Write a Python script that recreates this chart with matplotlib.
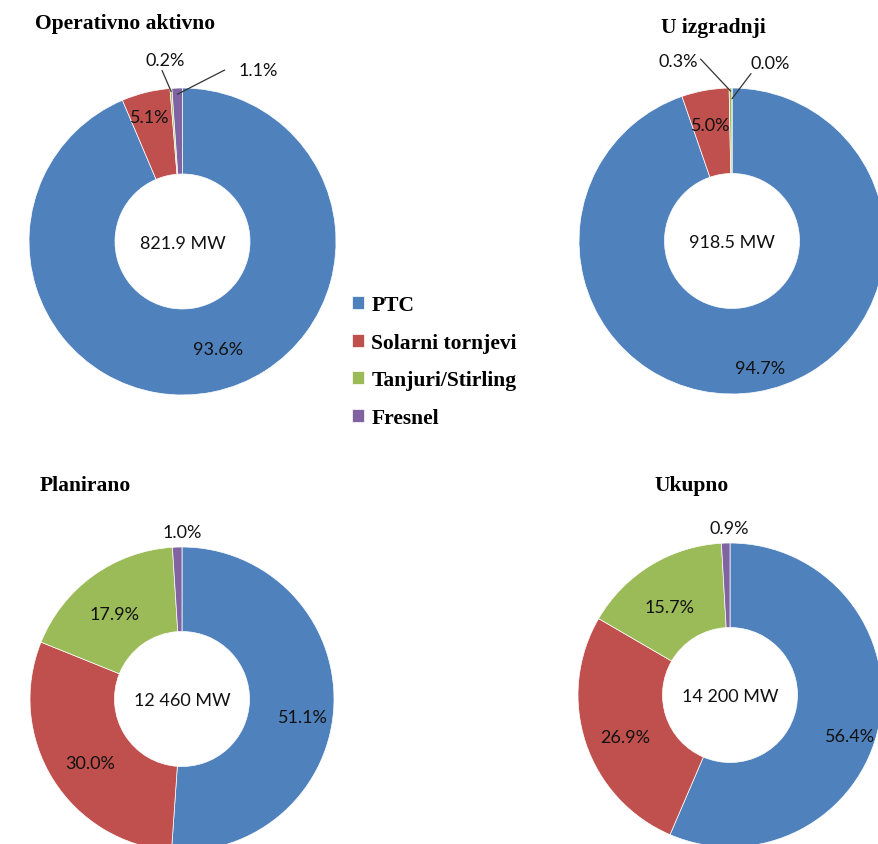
import numpy as np
import matplotlib
matplotlib.use("Agg")
import matplotlib.pyplot as plt
from matplotlib.font_manager import FontProperties

# ---------------- data ----------------
categories = ["PTC", "Solarni tornjevi", "Tanjuri/Stirling", "Fresnel"]
colors = ["#4F81BD", "#C0504D", "#9BBB59", "#8064A2"]

titles = ["Operativno aktivno", "U izgradnji", "Planirano", "Ukupno"]
totals = ["821.9 MW", "918.5 MW", "12 460 MW", "14 200 MW"]
operativno = [93.6, 5.1, 0.2, 1.1]
izgradnja = [94.7, 5.0, 0.3, 0.0]
planirano = [51.1, 30.0, 17.9, 1.0]
ukupno = [56.4, 26.9, 15.7, 0.9]
series = [operativno, izgradnja, planirano, ukupno]

# ---------------- layout ----------------
W, H = 879, 845
fig = plt.figure(figsize=(W / 100, H / 100), dpi=100)
ax = fig.add_axes([0, 0, 1, 1])


def py(y):
    return H - y


centers = [(182.5, 242.5), (732, 242), (182, 700), (730, 696)]
radii = [153.5, 153, 152, 152]
hole_r = 67.5
title_pos = [(35, 29, "left"), (713, 33, "center"), (40, 491, "left"), (692, 491, "center")]

# per slice: (radial factor, angle nudge, leader relpos or None, leader end radial factor)
label_layout = [
    [(0.725, 7, None, 0), (0.85, 0.5, None, 0), (1.20, 1.2, (0.4, 0.0), 0.98), (1.23, -25.6, (-0.35, 0.5), 0.96)],
    [(0.84, 3.1, None, 0), (0.78, 0.0, None, 0), (1.24, 16, (1.07, 0.6), 0.98), (1.20, -11.9, (0.12, 0.15), 0.93)],
    [(0.80, -6, None, 0), (0.73, 2, None, 0), (0.72, 2.1, None, 0), (1.11, -1.8, None, 0)],
    [(0.83, -6.5, None, 0), (0.74, 3, None, 0), (0.71, 2.5, None, 0), (1.11, -1.2, None, 0)],
]

lab_font = dict(family="Lato", size=13, color="#111111")
title_fp = FontProperties(family="Liberation Serif", weight="bold", size=15.5)

legend_handles = None
for k, vals in enumerate(series):
    cx, cy = centers[k]
    R = radii[k]
    wedges, _ = ax.pie(
        vals,
        colors=colors,
        startangle=90,
        counterclock=False,
        radius=R,
        center=(cx, py(cy)),
        wedgeprops=dict(width=R - hole_r, edgecolor="white", linewidth=0.5),
        labeldistance=None,
    )
    if legend_handles is None:
        legend_handles = wedges
    for i, (w, v) in enumerate(zip(wedges, vals)):
        mid = 0.5 * (w.theta1 + w.theta2)
        rf, dang, relpos, endf = label_layout[k][i]
        a = np.deg2rad(mid + dang)
        tx = cx + rf * R * np.cos(a)
        ty = py(cy) + rf * R * np.sin(a)
        txt = f"{v:.1f}%"
        if relpos is None:
            ax.text(tx, ty, txt, ha="center", va="center_baseline", **lab_font)
        else:
            am = np.deg2rad(mid)
            ex = cx + endf * R * np.cos(am)
            ey = py(cy) + endf * R * np.sin(am)
            ax.annotate(
                txt, xy=(ex, ey), xytext=(tx, ty), ha="center", va="center_baseline",
                arrowprops=dict(arrowstyle="-", color="#333333", lw=0.9,
                                relpos=relpos, shrinkA=0, shrinkB=0),
                **lab_font,
            )
    ax.text(cx, py(cy), totals[k], ha="center", va="center_baseline", **lab_font)
    tx, ty, ha = title_pos[k]
    ax.text(tx, py(ty), titles[k], ha=ha, va="baseline", fontproperties=title_fp, color="black")

ax.legend(
    legend_handles, categories,
    loc="upper left", bbox_to_anchor=(352, py(296)), bbox_transform=ax.transData,
    frameon=False, prop=title_fp,
    handlelength=0.55, handleheight=0.55, handletextpad=0.35,
    labelspacing=0.82, borderpad=0, borderaxespad=0,
)

ax.set_xlim(0, W)
ax.set_ylim(0, H)
ax.set_aspect("auto")
ax.axis("off")

fig.savefig("out.png", dpi=100)
